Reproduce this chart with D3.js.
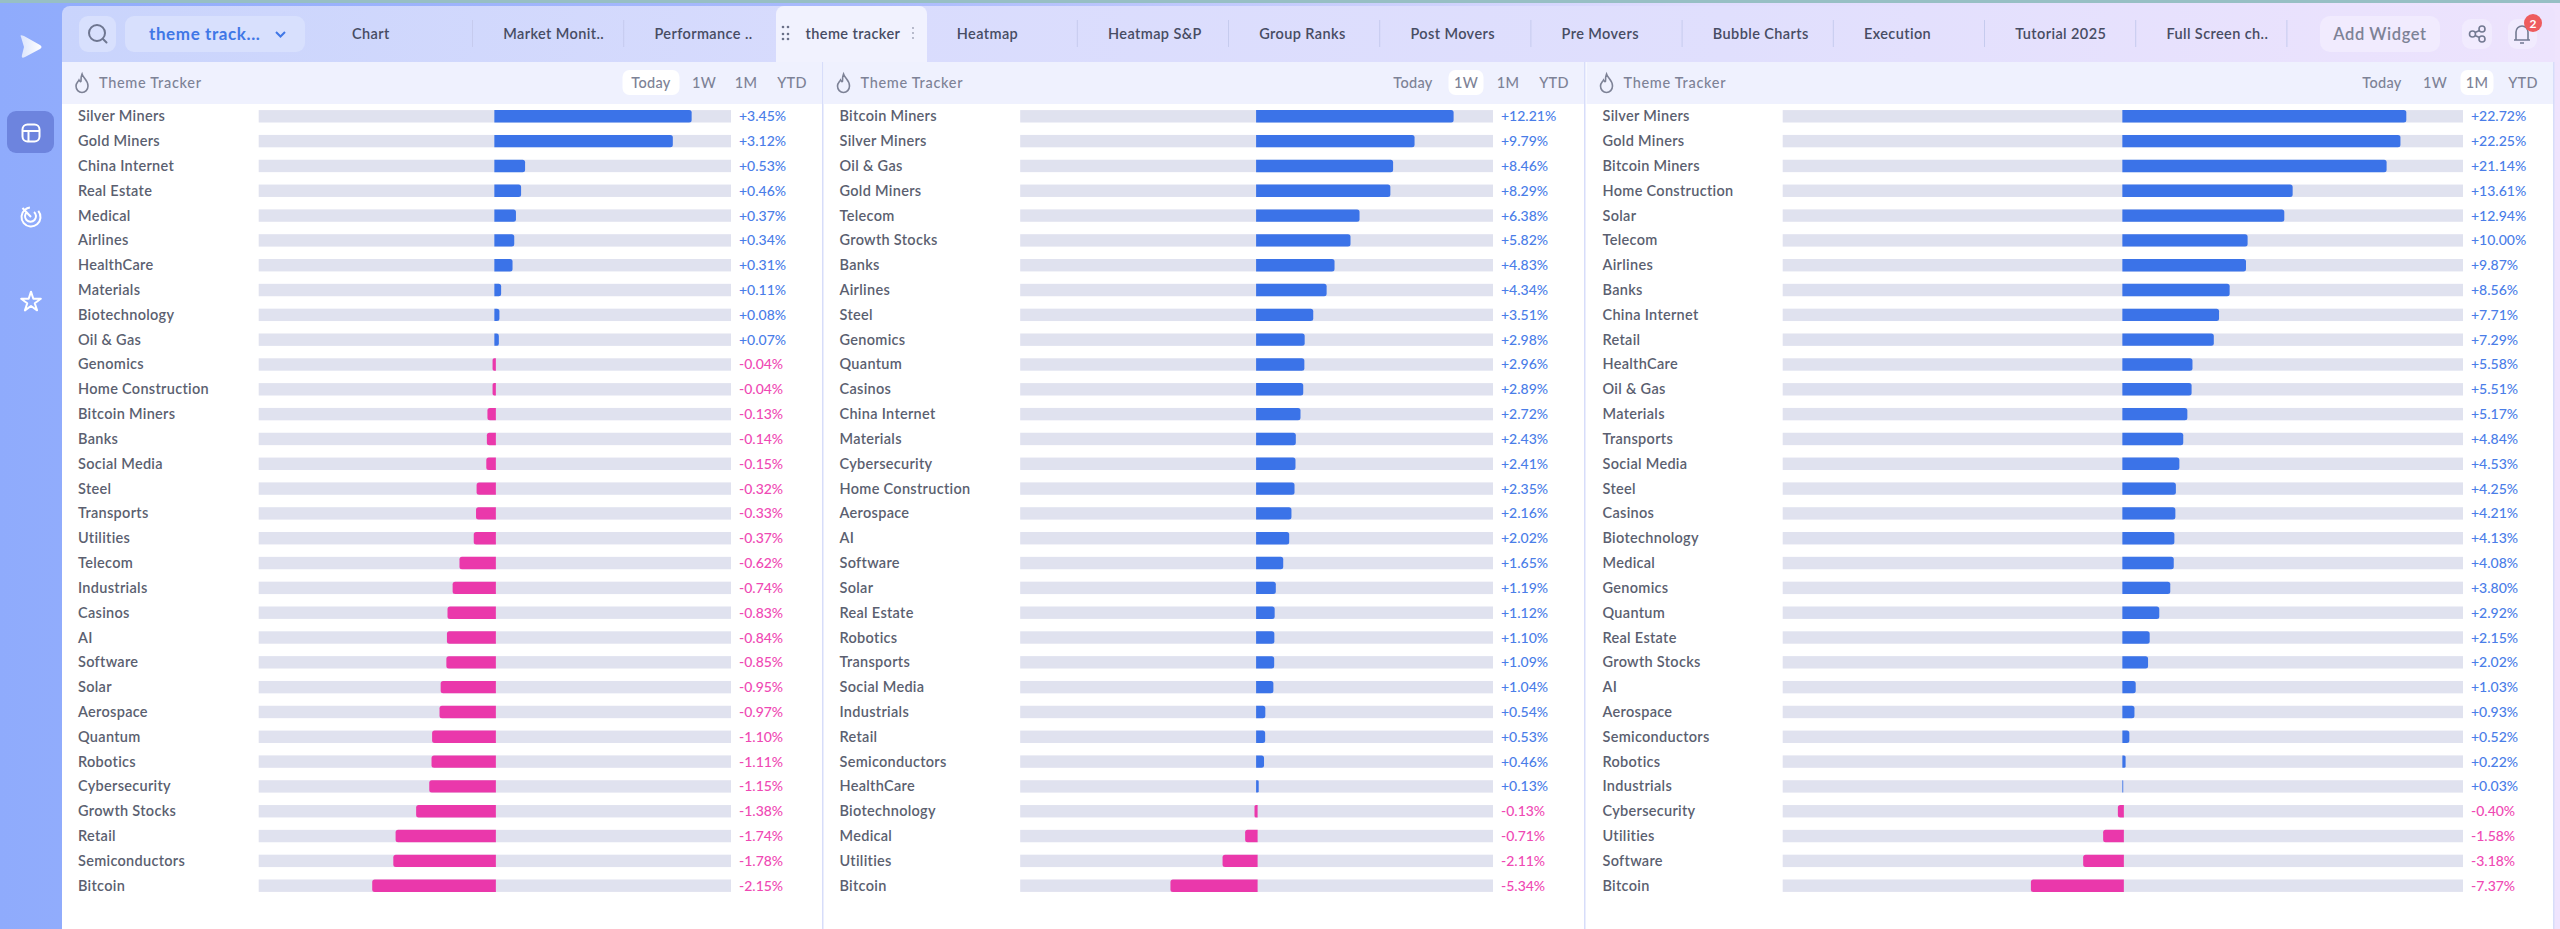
<!DOCTYPE html>
<html>
<head>
<meta charset="utf-8">
<script src="https://cdnjs.cloudflare.com/ajax/libs/d3/7.8.5/d3.min.js"></script>
<style>
  html, body { margin: 0; padding: 0; background: #fff; overflow: hidden; }
  text { font-family: "Lato", "Noto Sans", sans-serif; }
</style>
</head>
<body>
<svg id="page" width="2560" height="929"></svg>
<script>
var tabNames = ["Chart","Market Monit..","Performance ..","theme tracker","Heatmap","Heatmap S&P","Group Ranks","Post Movers","Pre Movers","Bubble Charts","Execution","Tutorial 2025","Full Screen ch.."];
var rangeNames = ["Today","1W","1M","YTD"];

var todayNames = ["Silver Miners","Gold Miners","China Internet","Real Estate","Medical","Airlines","HealthCare","Materials","Biotechnology","Oil & Gas","Genomics","Home Construction","Bitcoin Miners","Banks","Social Media","Steel","Transports","Utilities","Telecom","Industrials","Casinos","AI","Software","Solar","Aerospace","Quantum","Robotics","Cybersecurity","Growth Stocks","Retail","Semiconductors","Bitcoin"];
var todayValues = [3.45,3.12,0.53,0.46,0.37,0.34,0.31,0.11,0.08,0.07,-0.04,-0.04,-0.13,-0.14,-0.15,-0.32,-0.33,-0.37,-0.62,-0.74,-0.83,-0.84,-0.85,-0.95,-0.97,-1.10,-1.11,-1.15,-1.38,-1.74,-1.78,-2.15];

var weekNames = ["Bitcoin Miners","Silver Miners","Oil & Gas","Gold Miners","Telecom","Growth Stocks","Banks","Airlines","Steel","Genomics","Quantum","Casinos","China Internet","Materials","Cybersecurity","Home Construction","Aerospace","AI","Software","Solar","Real Estate","Robotics","Transports","Social Media","Industrials","Retail","Semiconductors","HealthCare","Biotechnology","Medical","Utilities","Bitcoin"];
var weekValues = [12.21,9.79,8.46,8.29,6.38,5.82,4.83,4.34,3.51,2.98,2.96,2.89,2.72,2.43,2.41,2.35,2.16,2.02,1.65,1.19,1.12,1.10,1.09,1.04,0.54,0.53,0.46,0.13,-0.13,-0.71,-2.11,-5.34];

var monthNames = ["Silver Miners","Gold Miners","Bitcoin Miners","Home Construction","Solar","Telecom","Airlines","Banks","China Internet","Retail","HealthCare","Oil & Gas","Materials","Transports","Social Media","Steel","Casinos","Biotechnology","Medical","Genomics","Quantum","Real Estate","Growth Stocks","AI","Aerospace","Semiconductors","Robotics","Industrials","Cybersecurity","Utilities","Software","Bitcoin"];
var monthValues = [22.72,22.25,21.14,13.61,12.94,10.00,9.87,8.56,7.71,7.29,5.58,5.51,5.17,4.84,4.53,4.25,4.21,4.13,4.08,3.80,2.92,2.15,2.02,1.03,0.93,0.52,0.22,0.03,-0.40,-1.58,-3.18,-7.37];

var panels = [
  {names: todayNames, values: todayValues, active: 0, left: 62, right: 823, trackLeft: 258.7, trackRight: 731},
  {names: weekNames, values: weekValues, active: 1, left: 823.5, right: 1585, trackLeft: 1020.2, trackRight: 1493},
  {names: monthNames, values: monthValues, active: 2, left: 1586.5, right: 2554, trackLeft: 1782.7, trackRight: 2463}
];

var rangeOffset = [-172,-119,-77,-31],
  rangeWidth = [57,35,33,40],
  blue = "#3b73e8",
  pink = "#ea38ab",
  valueBlue = "#4a7de8",
  valuePink = "#ef49b4",
  labelColor = "#5b5f70",
  grayText = "#7d8296";

var svg = d3.select("#page");
var defs = svg.append("defs");

function gradient(id, x2, y2, stops) {
  var g = defs.append("linearGradient").attr("id", id)
    .attr("x1", 0).attr("y1", 0).attr("x2", x2).attr("y2", y2);
  stops.forEach(function(s, i) {
    g.append("stop").attr("offset", i / (stops.length - 1)).attr("stop-color", s);
  });
}
gradient("bgGrad", 1, 0, ["#8fabfc","#a9bafc","#dfdcfd","#efe4fd"]);
gradient("stripGrad", 1, 0, ["#c9d4fc","#d9dcfd","#e0dffd","#ede3fd"]);
gradient("logoGrad", 1, 0, ["#dbe4fd","#ffffff"]);

// page background and top line
svg.append("rect").attr("width", 2560).attr("height", 929).attr("fill", "url(#bgGrad)");
svg.append("rect").attr("width", 2560).attr("height", 3).attr("fill", "#97bfc4");

// tab strip
svg.append("path")
  .attr("d", "M62,62V14a8,8 0 0 1 8,-8H2547a8,8 0 0 1 8,8V62Z")
  .attr("fill", "url(#stripGrad)");

// white content background
svg.append("rect").attr("x", 62).attr("y", 62).attr("width", 2492).attr("height", 867).attr("fill", "#fff");

// left sidebar icons
var side = svg.append("g");
side.append("path").attr("d", "M21,37 Q19,34 24,36 L40,45 Q43,47 40,49 L25,57 Q21,59 22,55 L24,47 Z").attr("fill", "url(#logoGrad)");
side.append("rect").attr("x", 7).attr("y", 111).attr("width", 47).attr("height", 42).attr("rx", 9).attr("fill", "#6d84de");
var icon = side.append("g").attr("fill", "none").attr("stroke", "#fff").attr("stroke-width", 2);
icon.append("rect").attr("x", 22.5).attr("y", 124.5).attr("width", 17).attr("height", 17).attr("rx", 5);
icon.append("path").attr("d", "M22.5,131H39.5M28.5,131V141.5");
icon.append("circle").attr("cx", 31).attr("cy", 217).attr("r", 9.5).attr("stroke-dasharray", "50 10").attr("transform", "rotate(-40 31 217)");
icon.append("path").attr("d", "M27,212a5.5,5.5 0 1 0 7,0M31,217L22.5,208");
icon.append("path").attr("d", d3.symbol().type(d3.symbolStar).size(120)()).attr("transform", "translate(31,302)").attr("stroke-linejoin", "round");

// search + dropdown
svg.append("rect").attr("x", 79).attr("y", 16).attr("width", 37).attr("height", 36).attr("rx", 9).attr("fill", "#d8e0fd");
svg.append("circle").attr("cx", 97).attr("cy", 33).attr("r", 8).attr("fill", "none").attr("stroke", "#6e7690").attr("stroke-width", 2);
svg.append("path").attr("d", "M103,39L106.5,42.5").attr("stroke", "#6e7690").attr("stroke-width", 2).attr("stroke-linecap", "round");
svg.append("rect").attr("x", 125).attr("y", 16).attr("width", 180).attr("height", 36).attr("rx", 9).attr("fill", "#d8e0fd");
svg.append("text").attr("x", 149).attr("y", 40).attr("font-size", 17).attr("font-weight", 700).attr("letter-spacing", 0.6).attr("fill", "#4077e6").text("theme track...");
svg.append("path").attr("d", "M276,32l4.5,4.5l4.5,-4.5").attr("fill", "none").attr("stroke", "#4077e6").attr("stroke-width", 2);

// tabs
svg.append("path").attr("d", "M776,62V14a8,8 0 0 1 8,-8H919a8,8 0 0 1 8,8V62Z").attr("fill", "#f1f2fe");
svg.selectAll("text.tab").data(tabNames).enter().append("text")
  .attr("class", "tab")
  .attr("x", function(d, i) { return 352 + 151.2 * i; })
  .attr("y", 39)
  .attr("font-size", 14.5)
  .attr("font-weight", 600)
  .attr("letter-spacing", 0.4)
  .attr("fill", "#474c63")
  .text(function(d) { return d; });
svg.selectAll("line.tabsep").data(d3.range(tabNames.length))
  .enter().filter(function(d) { return d != 2 && d != 3; }).append("line")
  .attr("class", "tabsep")
  .attr("x1", function(d) { return 472.5 + 151.2 * d; })
  .attr("x2", function(d) { return 472.5 + 151.2 * d; })
  .attr("y1", 20).attr("y2", 47)
  .attr("stroke", "#c6cbee");
[[783,27],[788,27],[783,34],[788,34],[783,39],[788,39]].forEach(function(p) {
  svg.append("circle").attr("cx", p[0]).attr("cy", p[1]).attr("r", 1.3).attr("fill", "#6b7189");
});
[28,33,38].forEach(function(y) {
  svg.append("circle").attr("cx", 913).attr("cy", y).attr("r", 0.9).attr("fill", "#9ba0b3");
});

// add widget + share + bell
svg.append("rect").attr("x", 2320).attr("y", 16).attr("width", 120).attr("height", 36).attr("rx", 10).attr("fill", "#f1ebfe");
svg.append("text").attr("x", 2380).attr("y", 40).attr("text-anchor", "middle").attr("font-size", 16.5).attr("font-weight", 600).attr("letter-spacing", 0.6).attr("fill", grayText).text("Add Widget");
svg.append("rect").attr("x", 2462).attr("y", 19).attr("width", 30).attr("height", 30).attr("rx", 9).attr("fill", "#f1ebfe");
svg.append("rect").attr("x", 2508).attr("y", 19).attr("width", 29).attr("height", 30).attr("rx", 9).attr("fill", "#f1ebfe");
var share = svg.append("g").attr("fill", "none").attr("stroke", "#737a92").attr("stroke-width", 1.6);
share.append("circle").attr("cx", 2472.5).attr("cy", 34).attr("r", 3);
share.append("circle").attr("cx", 2482).attr("cy", 29).attr("r", 3);
share.append("circle").attr("cx", 2482).attr("cy", 39).attr("r", 3);
share.append("path").attr("d", "M2475,32.5L2479.5,30.5M2475,35.5L2479.5,37.5");
share.append("path").attr("d", "M2516,40V32a6,6 0 0 1 12,0V40ZM2514,40H2530M2520,43H2524");
svg.append("circle").attr("cx", 2533).attr("cy", 23).attr("r", 9).attr("fill", "#ee5b5d");
svg.append("text").attr("x", 2533).attr("y", 27.5).attr("text-anchor", "middle").attr("font-size", 12).attr("font-weight", 700).attr("fill", "#fff").text("2");

var fmt = d3.formatLocale({decimal: ".", thousands: ",", grouping: [3], currency: ["$", ""], minus: "-"}).format("+.2f");

function barPath(x0, x1, y, h) {
  var p = d3.path(), r = 2.5;
  if (Math.abs(x1 - x0) < 2 * r) r = Math.abs(x1 - x0) / 2;
  if (x1 > x0) {
    p.moveTo(x0, y); p.lineTo(x1 - r, y); p.quadraticCurveTo(x1, y, x1, y + r);
    p.lineTo(x1, y + h - r); p.quadraticCurveTo(x1, y + h, x1 - r, y + h); p.lineTo(x0, y + h);
  } else {
    p.moveTo(x0, y); p.lineTo(x1 + r, y); p.quadraticCurveTo(x1, y, x1, y + r);
    p.lineTo(x1, y + h - r); p.quadraticCurveTo(x1, y + h, x1 + r, y + h); p.lineTo(x0, y + h);
  }
  p.closePath();
  return p.toString();
}

function drawPanel(panel) {
  var g = svg.append("g"),
    rows = panel.names.map(function(n, i) { return {name: n, value: panel.values[i]}; }),
    maxAbs = d3.max(panel.values, Math.abs) * 1.2,
    x = d3.scaleLinear().domain([-maxAbs, maxAbs]).range([panel.trackLeft, panel.trackRight]),
    y = d3.scalePoint().domain(d3.range(rows.length)).range([116.3, 885.7]),
    barH = 12.4;

  // header band
  g.append("rect").attr("x", panel.left).attr("y", 62).attr("width", panel.right - panel.left).attr("height", 42).attr("fill", "#eff1fe");
  g.append("path").attr("transform", "translate(" + (panel.left + 20) + ",84)")
    .attr("d", "M0,-10C1,-6 6,-4 6,2A6,6.5 0 0 1 -6,2C-6,-1 -4,-2 -3,-4C-2,-2 -1,-2 -1,-3C-1,-5 -1,-8 0,-10Z")
    .attr("fill", "none").attr("stroke", "#7d8296").attr("stroke-width", 1.6);
  g.append("text").attr("x", panel.left + 37).attr("y", 88).attr("font-size", 14.5).attr("font-weight", 500).attr("letter-spacing", 0.7).attr("fill", grayText).text("Theme Tracker");

  rangeNames.forEach(function(r, i) {
    var cx = panel.right + rangeOffset[i];
    if (i == panel.active) {
      g.append("rect").attr("x", cx - rangeWidth[i] / 2).attr("y", 70).attr("width", rangeWidth[i]).attr("height", 25).attr("rx", 7).attr("fill", "#fff");
    }
    g.append("text").attr("x", cx).attr("y", 88).attr("text-anchor", "middle").attr("font-size", 14.5).attr("font-weight", 500).attr("letter-spacing", 0.3).attr("fill", grayText).text(r);
  });

  // divider on the right of each panel
  g.append("rect").attr("x", panel.right - 1).attr("y", 62).attr("width", 1.5).attr("height", 867).attr("fill", "#d7ddfa");

  var row = g.selectAll("g.row").data(rows).enter().append("g").attr("class", "row");

  row.append("text")
    .attr("x", panel.left + 16)
    .attr("y", function(d, i) { return y(i) + 5; })
    .attr("font-size", 14.5)
    .attr("font-weight", 600)
    .attr("letter-spacing", 0.3)
    .attr("fill", labelColor)
    .text(function(d) { return d.name; });

  row.append("rect")
    .attr("x", panel.trackLeft)
    .attr("y", function(d, i) { return y(i) - barH / 2; })
    .attr("width", panel.trackRight - panel.trackLeft)
    .attr("height", barH)
    .attr("fill", "#e0e2ef");

  row.append("path")
    .attr("d", function(d, i) {
      var zero = x(0) + (d.value > 0 ? -0.5 : 1);
      return barPath(zero, x(d.value), y(i) - barH / 2, barH);
    })
    .attr("fill", function(d) { return d.value > 0 ? blue : pink; });

  row.append("text")
    .attr("x", panel.trackRight + 8)
    .attr("y", function(d, i) { return y(i) + 5; })
    .attr("font-size", 14)
    .attr("font-weight", 500)
    .attr("fill", function(d) { return d.value > 0 ? valueBlue : valuePink; })
    .text(function(d) { return fmt(d.value) + "%"; });
}

panels.forEach(drawPanel);
</script>
</body>
</html>
